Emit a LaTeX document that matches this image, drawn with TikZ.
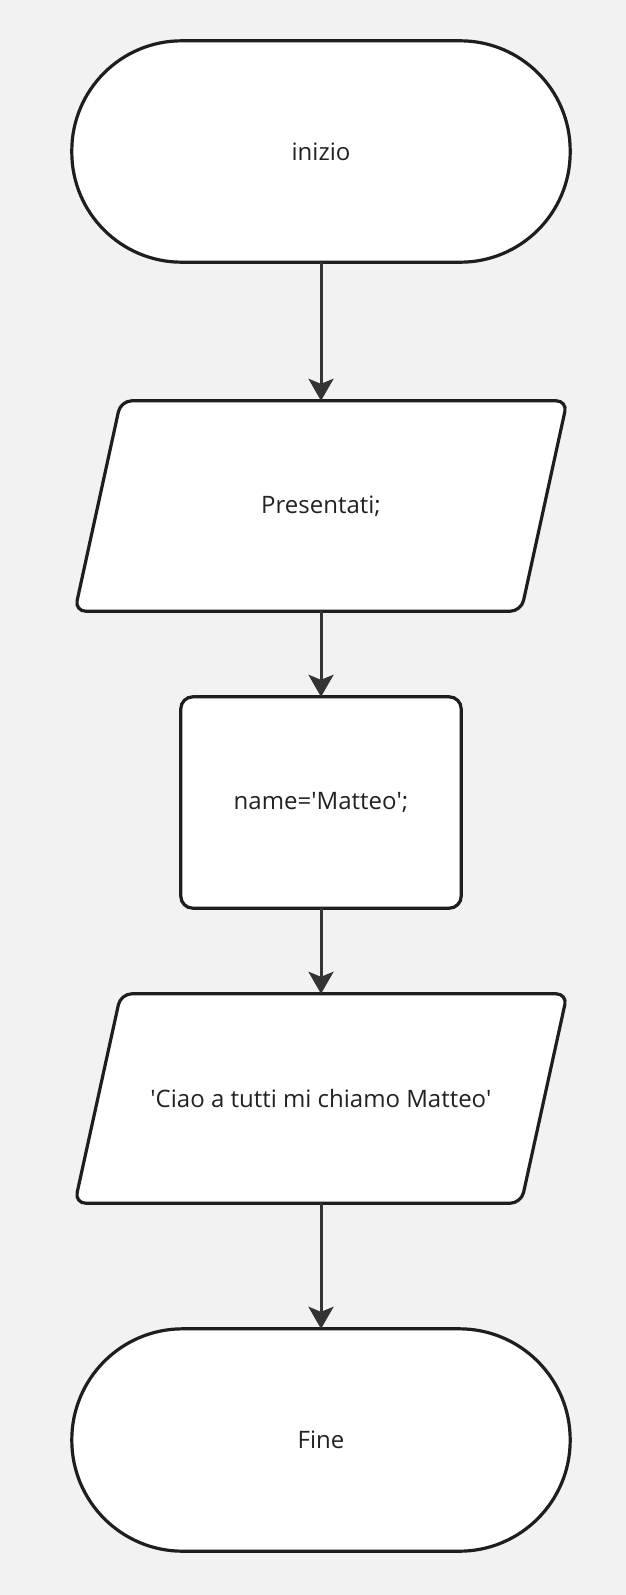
\documentclass[tikz,border=0pt]{standalone}
\usepackage{fontspec}
\setmainfont{Open Sans}
\usetikzlibrary{arrows.meta}
\definecolor{bgc}{HTML}{F2F2F2}
\definecolor{strokec}{HTML}{1E1E1E}
\definecolor{linkc}{HTML}{333333}
\definecolor{textc}{HTML}{222222}
\newcommand{\sq}{\textquotesingle}
\begin{document}
\begin{tikzpicture}[x=1pt,y=-1pt,
  box/.style={draw=none,minimum width=#1,inner sep=0pt,text=textc,font=\fontsize{24pt}{29pt}\selectfont},
  outline/.style={draw=strokec,fill=white,line width=3.2pt},
  link/.style={draw=linkc,line width=3pt,-{Stealth[length=22pt,width=25pt,inset=5pt]}}]
\fill[bgc] (0,0) rectangle (626,1595);
\useasboundingbox (0,0) rectangle (626,1595);
% nodes (invisible frames carrying the text)
\node[box=498pt,minimum height=221pt] (start) at (321,151.5) {};
\node[box=492pt,minimum height=210pt] (io1) at (321,506) {};
\node[box=280pt,minimum height=211pt] (assign) at (321,802.5) {};
\node[box=492pt,minimum height=209pt] (io2) at (321,1098.5) {};
\node[box=498pt,minimum height=222pt] (stop) at (321,1440) {};
% outlines
\draw[outline,rounded corners=110pt] (start.north west) rectangle (start.south east);
\draw[outline,rounded corners=11pt] ([xshift=46pt]io1.north west) -- (io1.north east) -- ([xshift=-46pt]io1.south east) -- (io1.south west) -- cycle;
\draw[outline,rounded corners=12pt] (assign.north west) rectangle (assign.south east);
\draw[outline,rounded corners=11pt] ([xshift=46pt]io2.north west) -- (io2.north east) -- ([xshift=-46pt]io2.south east) -- (io2.south west) -- cycle;
\draw[outline,rounded corners=111pt] (stop.north west) rectangle (stop.south east);
% texts
\node[box=0pt] at (start.center) {inizio};
\node[box=0pt] at (io1.center) {Presentati;};
\node[box=0pt] at (assign.center) {name=\sq Matteo\sq;};
\node[box=0pt] at (io2.center) {\sq Ciao a tutti mi chiamo Matteo\sq};
\node[box=0pt] at (stop.center) {Fine};
% connectors
\draw[link] (start.south) -- (io1.north);
\draw[link] (io1.south) -- (assign.north);
\draw[link] (assign.south) -- (io2.north);
\draw[link] (io2.south) -- (stop.north);
\end{tikzpicture}
\end{document}
